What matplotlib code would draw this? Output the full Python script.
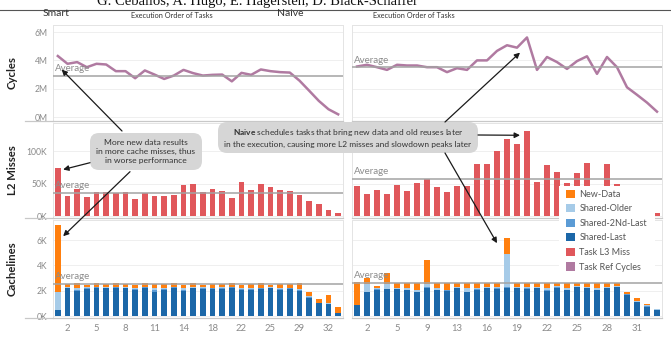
import matplotlib
matplotlib.use("Agg")
import matplotlib.pyplot as plt
from matplotlib.patches import Patch, FancyBboxPatch, Rectangle
from matplotlib.lines import Line2D
from matplotlib.text import Annotation
import numpy as np

plt.rcParams['font.family'] = ['Lato', 'DejaVu Sans']
plt.rcParams['mathtext.fontset'] = 'custom'
plt.rcParams['mathtext.rm'] = 'Lato'
plt.rcParams['mathtext.bf'] = 'Lato:bold'

# ---------------- data ----------------
smart_tasks = [1, 2, 3, 4, 5, 6, 7, 8, 9, 10, 11, 12, 13, 14, 15, 16, 18, 19, 20, 22,
               23, 24, 25, 26, 28, 29, 30, 31, 32, 33]
naive_tasks = [1, 2, 3, 4, 5, 6, 7, 9, 10, 11, 13, 14, 15, 16, 17, 18, 19, 20, 21, 22,
               23, 24, 25, 26, 27, 28, 29, 30, 31, 32, 33]

# Task Ref Cycles (millions)
smart_cycles = [4.31, 3.76, 3.88, 3.52, 3.76, 3.71, 3.24, 3.24, 2.74, 3.29,
                3.00, 2.69, 2.93, 3.33, 3.10, 2.93, 2.98, 3.00, 2.52, 3.12,
                2.98, 3.36, 3.24, 3.17, 3.14, 2.57, 1.86, 1.14, 0.55, 0.19]
naive_cycles = [3.57, 3.69, 3.52, 3.33, 3.69, 3.64, 3.64, 3.52, 3.52, 3.17,
                3.45, 3.33, 4.00, 4.00, 4.67, 5.07, 4.90, 5.62, 3.33, 4.24,
                3.88, 3.40, 3.95, 4.29, 3.05, 4.24, 3.52, 2.10, 1.57, 1.02, 0.38]

# Task L3 Miss (thousands)
smart_l2 = [75.0, 31.7, 42.0, 29.0, 37.0, 37.0, 35.0, 38.0, 26.5, 35.0,
            31.7, 31.7, 33.0, 47.6, 50.0, 38.0, 42.0, 38.6, 27.8, 52.0,
            40.0, 50.0, 44.5, 40.0, 38.6, 33.0, 24.0, 18.5, 9.0, 5.0]
naive_l2 = [46.0, 34.4, 39.7, 34.4, 47.6, 38.6, 51.3, 56.6, 45.0, 37.0,
            46.0, 46.0, 80.4, 80.4, 100.5, 120.0, 111.0, 132.0, 53.0, 79.0,
            67.7, 51.0, 66.0, 82.0, 40.0, 80.0, 49.0, 35.0, 25.0, 15.0, 4.0]

# Cachelines (thousands)
smart_last = [0.52, 2.20, 2.00, 2.15, 2.25, 2.20, 2.25, 2.20, 2.10, 2.25,
              1.95, 2.10, 2.25, 2.00, 2.20, 2.15, 2.15, 2.15, 2.25, 2.10,
              2.10, 2.15, 2.20, 2.10, 2.15, 2.00, 1.47, 1.03, 0.96, 0.26]
smart_second = [0.00, 0.05, 0.10, 0.05, 0.05, 0.05, 0.05, 0.05, 0.05, 0.05,
                0.10, 0.05, 0.05, 0.10, 0.05, 0.05, 0.05, 0.05, 0.05, 0.05,
                0.05, 0.05, 0.05, 0.05, 0.05, 0.05, 0.05, 0.03, 0.03, 0.02]
smart_older = [1.42, 0.05, 0.15, 0.10, 0.05, 0.05, 0.05, 0.05, 0.10, 0.05,
               0.20, 0.10, 0.05, 0.15, 0.05, 0.10, 0.05, 0.10, 0.05, 0.10,
               0.10, 0.05, 0.05, 0.10, 0.05, 0.10, 0.05, 0.03, 0.03, 0.02]
smart_new = [5.25, 0.25, 0.35, 0.20, 0.25, 0.25, 0.25, 0.25, 0.25, 0.25,
             0.30, 0.30, 0.25, 0.25, 0.30, 0.20, 0.30, 0.25, 0.25, 0.25,
             0.30, 0.35, 0.20, 0.30, 0.30, 0.45, 0.37, 0.28, 0.66, 0.48]

naive_last = [0.90, 1.89, 2.07, 2.12, 2.12, 2.05, 1.90, 2.25, 2.05, 2.00,
              2.20, 1.90, 2.07, 2.20, 2.15, 2.25, 2.20, 2.15, 2.20, 2.00,
              2.25, 2.05, 2.30, 2.20, 2.05, 2.20, 2.30, 1.68, 1.10, 0.78, 0.52]
naive_second = [0.00, 0.05, 0.05, 0.05, 0.05, 0.05, 0.05, 0.05, 0.05, 0.05,
                0.05, 0.05, 0.05, 0.05, 0.05, 0.05, 0.05, 0.05, 0.05, 0.05,
                0.05, 0.05, 0.05, 0.05, 0.05, 0.05, 0.05, 0.05, 0.03, 0.03, 0.02]
naive_older = [0.00, 0.60, 0.10, 0.35, 0.10, 0.10, 0.10, 0.25, 0.10, 0.05,
               0.10, 0.25, 0.10, 0.10, 0.10, 2.58, 0.10, 0.10, 0.05, 0.15,
               0.10, 0.10, 0.05, 0.10, 0.10, 0.05, 0.05, 0.05, 0.05, 0.07, 0.03]
naive_new = [1.81, 0.46, 0.18, 0.92, 0.33, 0.40, 0.55, 1.85, 0.40, 0.50,
             0.25, 0.40, 0.38, 0.25, 0.30, 1.24, 0.25, 0.30, 0.30, 0.40,
             0.20, 0.40, 0.20, 0.25, 0.40, 0.30, 0.20, 0.16, 0.25, 0.08, 0.05]

series_names = ['New-Data', 'Shared-Older', 'Shared-2Nd-Last', 'Shared-Last',
                'Task L3 Miss', 'Task Ref Cycles']
series_colors = ['#ff7f0e', '#a6cbe8', '#5b9bd5', '#1b67a8', '#e0575b', '#b07aa1']
C_NEW, C_OLD, C_2ND, C_LAST, C_L3, C_CYC = series_colors

# ---------------- layout helpers ----------------
W, H = 671, 337
fig = plt.figure(figsize=(W / 100, H / 100), dpi=100)
fig.patch.set_facecolor('white')


def fx(x):
    return x / W


def fy(y):
    return 1 - y / H


cols = [(53, 343), (352, 662)]
rows = [(25, 121), (123, 218), (220, 318)]
ylims = [(-0.28, 6.5), (-3, 144), (-0.12, 7.57)]
yticks = [[0, 2, 4, 6], [0, 50, 100], [0, 2, 4, 6]]
yticklabels = [['0M', '2M', '4M', '6M'], ['0K', '50K', '100K'], ['0K', '2K', '4K', '6K']]
row_titles = ['Cycles', 'L2 Misses', 'Cachelines']

panels = [
    dict(tasks=smart_tasks, cyc=smart_cycles, l2=smart_l2,
         last=smart_last, second=smart_second, older=smart_older, new=smart_new),
    dict(tasks=naive_tasks, cyc=naive_cycles, l2=naive_l2,
         last=naive_last, second=naive_second, older=naive_older, new=naive_new),
]

axes = [[None, None] for _ in range(3)]
for r, (y0, y1) in enumerate(rows):
    for c, (x0, x1) in enumerate(cols):
        ax = fig.add_axes([fx(x0), fy(y1), (x1 - x0) / W, (y1 - y0) / H])
        ax.set_facecolor('none')
        n = len(panels[c]['tasks'])
        ax.set_xlim(-0.5, n - 0.5)
        ax.set_ylim(*ylims[r])
        ax.set_yticks(yticks[r])
        ax.grid(axis='y', color='#ededed', lw=0.6, zorder=0)
        ax.set_axisbelow(True)
        for s in ['top', 'left', 'right']:
            ax.spines[s].set_color('#e4e4e4')
            ax.spines[s].set_linewidth(0.7)
        ax.spines['bottom'].set_color('#c8c8c8')
        ax.spines['bottom'].set_linewidth(0.9)
        ax.tick_params(length=0, colors='#8a8a8a')
        if c == 0:
            ax.set_yticklabels(yticklabels[r], fontsize=6.2, color='#8a8a8a')
            ax.tick_params(axis='y', pad=4)
        else:
            ax.set_yticklabels([])
        idx = list(range(1, n, 3))
        ax.set_xticks(idx)
        if r == 2:
            ax.set_xticklabels([str(panels[c]['tasks'][i]) for i in idx],
                               fontsize=6.8, color='#8a8a8a')
            ax.tick_params(axis='x', pad=4)
        else:
            ax.set_xticklabels([])
        axes[r][c] = ax


def average_line(ax, val):
    ax.axhline(val, color='#a3a3a3', lw=1.1, zorder=4)
    ax.annotate('Average', xy=(0, val), xycoords=('axes fraction', 'data'),
                xytext=(1.5, 1.8), textcoords='offset points',
                ha='left', va='bottom', fontsize=7, color='#8c8c8c', zorder=5)


for c, p in enumerate(panels):
    n = len(p['tasks'])
    x = np.arange(n)
    bw = 0.62
    # Cycles
    ax = axes[0][c]
    ax.plot(x, p['cyc'], color=C_CYC, lw=1.8, zorder=3, solid_joinstyle='round')
    average_line(ax, float(np.mean(p['cyc'])))
    # L2
    ax = axes[1][c]
    ax.bar(x, p['l2'], width=bw, color=C_L3, zorder=2)
    average_line(ax, float(np.mean(p['l2'])))
    # Cachelines stacked
    ax = axes[2][c]
    last = np.array(p['last'])
    second = np.array(p['second'])
    older = np.array(p['older'])
    new = np.array(p['new'])
    ax.bar(x, last, width=bw, color=C_LAST, zorder=2)
    ax.bar(x, second, width=bw, bottom=last, color=C_2ND, zorder=2)
    ax.bar(x, older, width=bw, bottom=last + second, color=C_OLD, zorder=2)
    ax.bar(x, new, width=bw, bottom=last + second + older, color=C_NEW, zorder=2)
    average_line(ax, float(np.mean(last + second + older + new)))

# ---------------- header, row titles ----------------
fig.text(fx(257), fy(5.5), 'G. Ceballos, A. Hugo, E. Hagersten, D. Black-Schaffer',
         ha='center', va='baseline', fontsize=10.5, family='Liberation Serif', color='#111')
fig.add_artist(Line2D([0, 1], [fy(10), fy(10)], transform=fig.transFigure,
                      color='#555555', lw=0.8))
fig.text(fx(43), fy(14), 'Smart', ha='left', va='center', fontsize=7.5, color='#333333')
fig.text(fx(172), fy(15), 'Execution Order of Tasks', ha='center', va='center',
         fontsize=5.3, color='#333333')
fig.text(fx(277), fy(14), 'Naive', ha='left', va='center', fontsize=7.5, color='#333333')
fig.text(fx(414), fy(15), 'Execution Order of Tasks', ha='center', va='center',
         fontsize=5.3, color='#333333')

for r, (y0, y1) in enumerate(rows):
    fig.text(fx(12.5), fy((y0 + y1) / 2), row_titles[r], rotation=90, ha='center',
             va='center', fontsize=8.2, fontweight='bold', color='#222222')
    fig.add_artist(Line2D([fx(25), fx(53)], [fy(y1), fy(y1)], transform=fig.transFigure,
                          color='#c8c8c8', lw=0.9))

# ---------------- legend (white card over the right panes) ----------------
card = Rectangle((fx(559), fy(276)), fx(655) - fx(559), fy(186) - fy(276),
                 transform=fig.transFigure, facecolor='white', edgecolor='none', zorder=5)
fig.add_artist(card)
handles = [Patch(facecolor=col, edgecolor='none') for col in series_colors]
leg = fig.legend(handles, series_names, loc='upper left',
                 bbox_to_anchor=(fx(563), fy(187)), frameon=False, fontsize=6.5,
                 handlelength=1.0, handleheight=1.0, handletextpad=0.5,
                 labelspacing=0.6, borderpad=0.3, borderaxespad=0)
leg.set_zorder(6)
for t in leg.get_texts():
    t.set_color('#555555')

# ---------------- annotations ----------------
def gray_box(x0, y0, x1, y1):
    box = FancyBboxPatch((x0 / 100, (H - y1) / 100), (x1 - x0) / 100, (y1 - y0) / 100,
                         boxstyle='round,pad=0,rounding_size=0.09',
                         transform=fig.dpi_scale_trans, facecolor='#d6d6d6',
                         edgecolor='none', zorder=8)
    fig.add_artist(box)


gray_box(90, 133, 202, 170)
fig.text(fx(146), fy(151.5),
         'More new data results\nin more cache misses, thus\nin worse performance',
         ha='center', va='center', fontsize=6.1, color='#333333', linespacing=1.3,
         zorder=9)

gray_box(218, 122, 478, 153)
fig.text(fx(348), fy(137.5),
         r'$\mathbf{Naive}$ schedules tasks that bring new data and old reuses later' '\n'
         'in the execution, causing more L2 misses and slowdown peaks later',
         ha='center', va='center', fontsize=6.0, color='#333333', linespacing=1.35,
         zorder=9)


def arrow(ax, head, tail_px):
    ann = Annotation('', xy=head, xycoords=ax.transData,
                     xytext=(fx(tail_px[0]), fy(tail_px[1])), textcoords=fig.transFigure,
                     arrowprops=dict(arrowstyle='-|>', color='#1a1a1a', lw=0.9,
                                     mutation_scale=8, shrinkA=0, shrinkB=0))
    ann.set_zorder(10)
    fig.add_artist(ann)


arrow(axes[0][0], (0.4, 3.35), (122, 131))
arrow(axes[1][0], (0.55, 72), (90, 162.7))
arrow(axes[2][0], (0.55, 6.3), (130, 171.7))
arrow(axes[0][1], (16.3, 4.55), (445, 122))
arrow(axes[1][1], (16.3, 125), (478, 135))
arrow(axes[2][1], (14.0, 5.75), (445, 153))

fig.savefig('out.png', dpi=100, facecolor='white')
